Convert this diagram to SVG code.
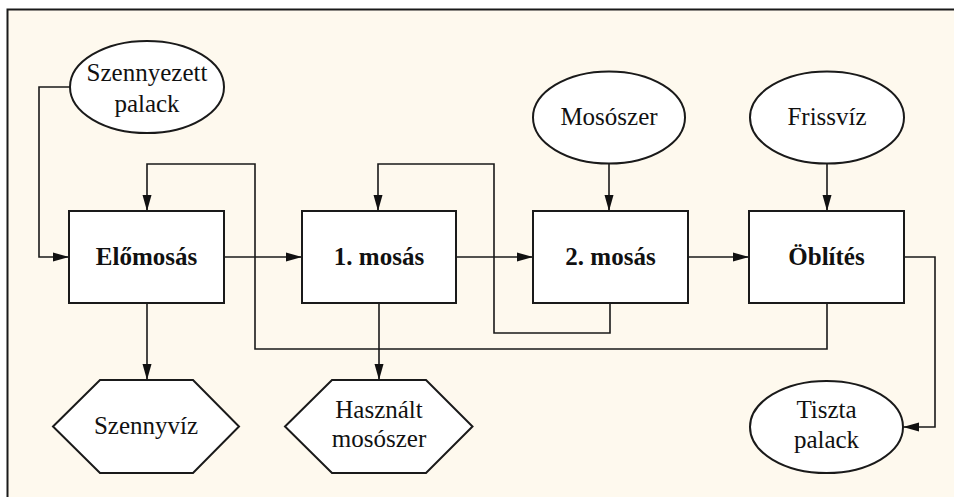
<svg xmlns="http://www.w3.org/2000/svg" width="954" height="497" viewBox="0 0 954 497">
<style>
.shape{fill:#ffffff;stroke:#1a1a1a;stroke-width:2}
.conn{fill:none;stroke:#1a1a1a;stroke-width:1.6}
.t{font-family:"Liberation Serif","Times New Roman",serif;font-size:25px;fill:#111;text-anchor:middle}
.b{font-weight:bold}
</style>
<defs>
<marker id="arr" markerUnits="userSpaceOnUse" markerWidth="16" markerHeight="10" refX="16" refY="5" orient="auto">
<path d="M0,0.5 L16,5 L0,9.5 z" fill="#111"/>
</marker>
</defs>
<rect x="0" y="0" width="954" height="497" fill="#ffffff"/>
<rect x="7.5" y="9.5" width="960" height="500" fill="#FEF9EE" stroke="#1a1a1a" stroke-width="2"/>
<g id="connectors">
<path class="conn" d="M70,87 H39 V257 H69" marker-end="url(#arr)"/>
<path class="conn" d="M224,257 H302" marker-end="url(#arr)"/>
<path class="conn" d="M456,257 H533" marker-end="url(#arr)"/>
<path class="conn" d="M688,257 H749" marker-end="url(#arr)"/>
<path class="conn" d="M609,163.5 V211" marker-end="url(#arr)"/>
<path class="conn" d="M827,163.5 V211" marker-end="url(#arr)"/>
<path class="conn" d="M904,257 H935 V427 H903" marker-end="url(#arr)"/>
<path class="conn" d="M147,303 V380" marker-end="url(#arr)"/>
<path class="conn" d="M379,303 V380" marker-end="url(#arr)"/>
<path class="conn" d="M610,303 V333 H494 V164 H378 V211" marker-end="url(#arr)"/>
<path class="conn" d="M827,303 V349 H255 V164 H147 V211" marker-end="url(#arr)"/>
</g>
<g id="szennyezett-palack">
<ellipse class="shape" cx="147" cy="87" rx="77" ry="46"/>
<text class="t" x="147" y="81">Szennyezett</text>
<text class="t" x="147" y="112">palack</text>
</g>
<g id="elomosas">
<rect class="shape" x="69" y="211" width="155" height="92"/>
<text class="t b" x="146.5" y="265">Előmosás</text>
</g>
<g id="mosas1">
<rect class="shape" x="302" y="211" width="154" height="92"/>
<text class="t b" x="379" y="265">1. mosás</text>
</g>
<g id="mosas2">
<rect class="shape" x="533" y="211" width="155" height="92"/>
<text class="t b" x="610.5" y="265">2. mosás</text>
</g>
<g id="oblites">
<rect class="shape" x="749" y="211" width="155" height="92"/>
<text class="t b" x="826.5" y="265">Öblítés</text>
</g>
<g id="mososzer">
<ellipse class="shape" cx="609" cy="117.5" rx="76" ry="46"/>
<text class="t" x="609" y="125">Mosószer</text>
</g>
<g id="frissviz">
<ellipse class="shape" cx="827" cy="117.5" rx="77" ry="46"/>
<text class="t" x="827" y="125">Frissvíz</text>
</g>
<g id="tiszta-palack">
<ellipse class="shape" cx="826.5" cy="427" rx="76.5" ry="46"/>
<text class="t" x="826.5" y="418">Tiszta</text>
<text class="t" x="826.5" y="448">palack</text>
</g>
<g id="szennyviz">
<polygon class="shape" points="53,426.5 100,380 193,380 239,426.5 193,473 100,473"/>
<text class="t" x="146" y="434">Szennyvíz</text>
</g>
<g id="hasznalt-mososzer">
<polygon class="shape" points="285,426.5 332,380 426,380 472.5,426.5 426,473 332,473"/>
<text class="t" x="379" y="418">Használt</text>
<text class="t" x="379" y="447">mosószer</text>
</g>
</svg>
